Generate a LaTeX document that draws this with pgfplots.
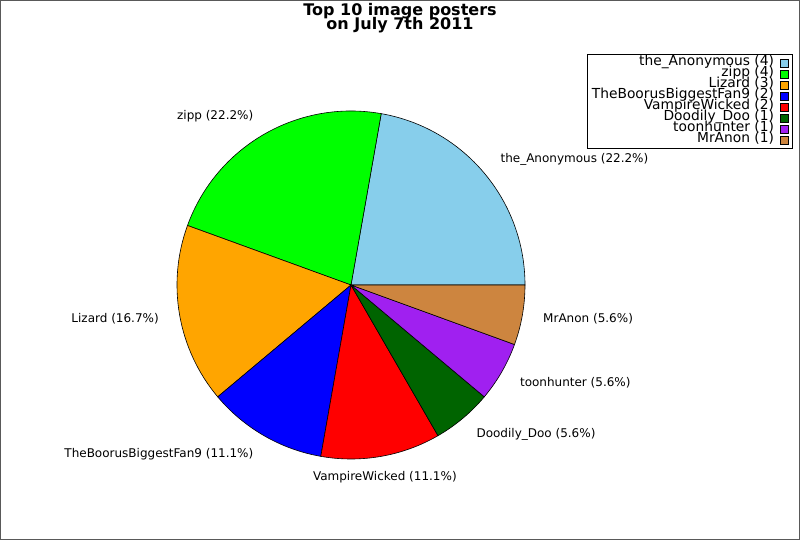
\documentclass[border=0pt]{standalone}
\usepackage{pgfplots}
\pgfplotsset{compat=1.18}
\usepackage{fontspec}
\setmainfont{DejaVu Sans}
\definecolor{cA}{RGB}{135,206,235}
\definecolor{cB}{RGB}{0,255,0}
\definecolor{cC}{RGB}{255,165,0}
\definecolor{cD}{RGB}{0,0,255}
\definecolor{cE}{RGB}{255,0,0}
\definecolor{cF}{RGB}{0,100,0}
\definecolor{cG}{RGB}{160,32,240}
\definecolor{cH}{RGB}{205,133,63}
\def\cum{0}
\def\total{18}
% \slice{value}{colour}{label}
\newcommand\slice[3]{%
  \pgfmathsetmacro\sA{\cum*360/\total}%
  \pgfmathsetmacro\sB{(\cum+#1)*360/\total}%
  \pgfmathsetmacro\sM{(\cum+#1/2)*360/\total}%
  \pgfmathsetmacro\sx{351+174*cos(\sA)}%
  \pgfmathsetmacro\sy{255+174*sin(\sA)}%
  \pgfmathsetmacro\lx{351+195*cos(\sM)}%
  \pgfmathsetmacro\ly{255+195*sin(\sM)}%
  \pgfmathsetmacro\cm{cos(\sM)}%
  \pgfmathparse{\cm>0.2?"west":(\cm<-0.2?"east":"center")}\let\anc\pgfmathresult
  \xdef\cum{\the\numexpr\cum+#1\relax}%
  \edef\tmp{\noexpand\fill[#2,draw=black,line width=0.6pt] (axis cs:351,255) -- (axis cs:\sx,\sy) arc[start angle=\sA,end angle=\sB,radius=174pt] -- cycle;
    \noexpand\node[anchor=\anc,inner sep=0pt,font=\noexpand\fontsize{12}{14}\noexpand\selectfont] at (axis cs:\lx,\ly) {\unexpanded{#3}};}%
  \tmp
}
\begin{document}
\begin{tikzpicture}
\begin{axis}[
  x=1pt, y=1pt, xmin=0, xmax=800, ymin=0, ymax=540,
  scale only axis, hide axis, clip=false,
  legend image code/.code={\draw[#1,draw=black,line width=0.6pt] (0pt,-4pt) rectangle (8pt,4pt);},
  legend plot pos=right,
  legend cell align=right,
  legend style={at={(axis cs:793,486)}, anchor=north east, draw=black, line width=0.8pt,
    font=\fontsize{13.8}{12}\selectfont, inner xsep=4pt, inner ysep=3pt,
    nodes={inner sep=0pt, text height=8.5pt, text depth=2.5pt},
    /tikz/every odd column/.append style={column sep=6pt}},
]
\draw[gray!70!black, line width=1pt] (axis cs:0.5,0.5) rectangle (axis cs:799.5,539.5);
\node[anchor=base, font=\bfseries\fontsize{16}{16}\selectfont, inner sep=0pt] at (axis cs:400,524) {Top 10 image posters};
\node[anchor=base, font=\bfseries\fontsize{16}{16}\selectfont, inner sep=0pt] at (axis cs:400,510.5) {on July 7th 2011};
\slice{4}{cA}{the\_Anonymous (22.2\%)}
\slice{4}{cB}{zipp (22.2\%)}
\slice{3}{cC}{Lizard (16.7\%)}
\slice{2}{cD}{TheBoorusBiggestFan9 (11.1\%)}
\slice{2}{cE}{VampireWicked (11.1\%)}
\slice{1}{cF}{Doodily\_Doo (5.6\%)}
\slice{1}{cG}{toonhunter (5.6\%)}
\slice{1}{cH}{MrAnon (5.6\%)}
\addlegendimage{fill=cA}\addlegendentry{the\_Anonymous (4)}
\addlegendimage{fill=cB}\addlegendentry{zipp (4)}
\addlegendimage{fill=cC}\addlegendentry{Lizard (3)}
\addlegendimage{fill=cD}\addlegendentry{TheBoorusBiggestFan9 (2)}
\addlegendimage{fill=cE}\addlegendentry{VampireWicked (2)}
\addlegendimage{fill=cF}\addlegendentry{Doodily\_Doo (1)}
\addlegendimage{fill=cG}\addlegendentry{toonhunter (1)}
\addlegendimage{fill=cH}\addlegendentry{MrAnon (1)}
\end{axis}
\end{tikzpicture}
\end{document}
